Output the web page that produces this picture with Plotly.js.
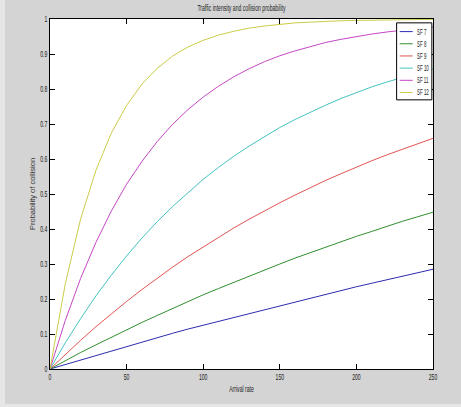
<!DOCTYPE html>
<html><head><meta charset="utf-8">
<script src="https://cdn.plot.ly/plotly-3.0.1.min.js"></script>
<style>html,body{margin:0;padding:0;background:#d4d4d4;} #chart{width:461px;height:407px;}</style>
</head><body><div id="chart"></div>
<script>
const arrivalRate = [0,10,20,30,40,50,60,70,80,90,100,110,120,130,140,150,160,170,180,190,200,210,220,230,240,250];
const sf7  = [0,0.013,0.026,0.039,0.052,0.065,0.077,0.090,0.102,0.114,0.125,0.137,0.149,0.160,0.171,0.182,0.193,0.204,0.214,0.225,0.235,0.245,0.255,0.265,0.275,0.285];
const sf8  = [0,0.024,0.047,0.069,0.091,0.112,0.133,0.153,0.173,0.193,0.212,0.230,0.248,0.266,0.283,0.300,0.317,0.333,0.348,0.364,0.379,0.393,0.408,0.422,0.435,0.448];
const sf9  = [0,0.042,0.082,0.121,0.158,0.193,0.227,0.260,0.291,0.321,0.349,0.377,0.403,0.428,0.452,0.475,0.497,0.519,0.539,0.558,0.577,0.595,0.612,0.628,0.644,0.659];
const sf10 = [0,0.075,0.144,0.209,0.268,0.323,0.374,0.421,0.464,0.504,0.542,0.576,0.608,0.637,0.664,0.690,0.713,0.734,0.754,0.773,0.790,0.806,0.820,0.834,0.846,0.858];
const sf11 = [0,0.139,0.259,0.362,0.451,0.528,0.593,0.650,0.699,0.741,0.777,0.808,0.835,0.858,0.878,0.895,0.909,0.922,0.933,0.942,0.950,0.957,0.963,0.968,0.973,0.977];
const sf12 = [0,0.244,0.429,0.568,0.674,0.753,0.814,0.859,0.894,0.920,0.939,0.954,0.965,0.974,0.980,0.985,0.989,0.991,0.994,0.995,0.996,0.997,0.998,0.998,0.999,0.999];
const seriesNames = ['SF 7','SF 8','SF 9','SF 10','SF 11','SF 12'];
const seriesValues = [sf7, sf8, sf9, sf10, sf11, sf12];
const seriesColors = ['#2c2cb0','#2f8f2f','#e05454','#44c2c2','#c448c4','#cccc48'];
const chartTitle = 'Traffic intensity and collision probability';
const xTitle = 'Arrival rate';
const yTitle = 'Probability of collision';

const fam = 'Liberation Sans, Arial, sans-serif';
const txt = {family: fam, size: 8.5, color: '#222'};

const traces = seriesNames.map((n, i) => ({
  x: arrivalRate, y: seriesValues[i], name: n, type: 'scatter', mode: 'lines',
  line: {color: seriesColors[i], width: 1}, showlegend: false, hoverinfo: 'skip'
}));

// lighter outer frame strips (left and bottom) of the figure window
const shapes = [
  {type:'rect', xref:'paper', yref:'paper', x0:-0.131, x1:-0.1175, y0:-0.11, y1:1.06,
   fillcolor:'#e6e6e6', line:{width:0}, layer:'below'},
  {type:'rect', xref:'paper', yref:'paper', x0:-0.131, x1:1.08, y0:-0.11, y1:-0.1,
   fillcolor:'#e6e6e6', line:{width:0}, layer:'below'},
  // compact MATLAB-style legend box
  {type:'rect', xref:'paper', yref:'paper', x0:0.905, x1:0.997, y0:0.769, y1:0.989,
   fillcolor:'#ffffff', line:{color:'#000', width:1}, layer:'above'}
];
const annotations = [];
seriesNames.forEach((n, i) => {
  const yy = 0.964 - i * 0.0348;
  shapes.push({type:'line', xref:'paper', yref:'paper', x0:0.913, x1:0.947, y0:yy, y1:yy,
    line:{color: seriesColors[i], width:1}, layer:'above'});
  annotations.push({xref:'paper', yref:'paper', x:0.952, y:yy, text:n, showarrow:false,
    xanchor:'left', yanchor:'middle', font:{family: fam, size: 8.5, color: '#222'}});
});
annotations.push({xref:'paper', yref:'paper', x:-0.047, y:0.5, text:yTitle, textangle:-90,
  showarrow:false, xanchor:'center', yanchor:'middle', font:{family: fam, size: 7.5, color:'#333'}});

const axisCommon = {
  showline: true, linecolor: '#000', linewidth: 1, mirror: 'ticks',
  ticks: 'inside', ticklen: 5, tickcolor: '#000', showgrid: false, zeroline: false,
  tickfont: txt
};

const layout = {
  width: 461, height: 407,
  margin: {l: 50, r: 28, t: 19, b: 38, pad: 0},
  paper_bgcolor: '#d4d4d4', plot_bgcolor: '#ffffff',
  title: {text: chartTitle, font: txt, x: 0.5, xref: 'paper', y: 0.98, yref: 'container', yanchor: 'middle'},
  xaxis: Object.assign({}, axisCommon, {range: [0, 250], dtick: 50, tick0: 0,
    title: {text: xTitle, font: txt, standoff: 4}}),
  yaxis: Object.assign({}, axisCommon, {range: [0, 1], dtick: 0.1, tick0: 0}),
  shapes: shapes, annotations: annotations
};

const norm = s => s.replace(/\s+/g, ' ').trim();
const SQUEEZE = 0.6; // the reference text is horizontally condensed
Plotly.newPlot('chart', traces, layout, {staticPlot: true, displayModeBar: false}).then(gd => {
  gd.querySelectorAll('svg text').forEach(t => {
    if (norm(t.textContent) === yTitle) return;
    const g = t.closest('.annotation');
    if (g && g.getAttribute('data-index') === String(seriesNames.length)) return;
    const w = t.getComputedTextLength();
    if (!w) return;
    let f = SQUEEZE;
    if (g) {
      const bb = t.getBBox();
      t.setAttribute('text-anchor', 'start');
      t.setAttribute('x', bb.x);
      f = 0.52;
    }
    t.setAttribute('textLength', (w * f).toFixed(2));
    t.setAttribute('lengthAdjust', 'spacingAndGlyphs');
  });
});
</script>
</body></html>
